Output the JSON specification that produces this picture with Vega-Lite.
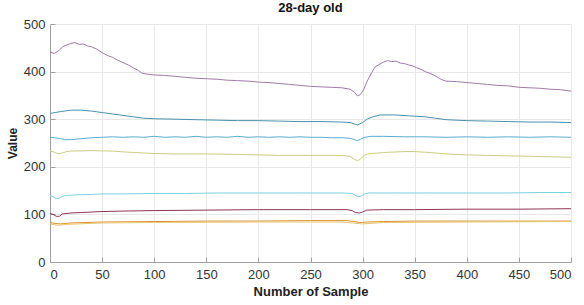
{
  "$schema": "https://vega.github.io/schema/vega-lite/v6.json",
  "width": 521,
  "height": 238,
  "autosize": {"type": "none"},
  "padding": {"left": 50, "top": 24, "right": 13, "bottom": 43},
  "background": "white",
  "title": {"text": "28-day old", "fontSize": 13, "font": "Liberation Sans", "fontWeight": "bold", "color": "#111111", "offset": 3},
  "config": {
    "view": {"stroke": null},
    "axis": {"labelFont": "Liberation Sans", "titleFont": "Liberation Sans", "labelFontSize": 13, "titleFontSize": 13, "labelColor": "#333333", "titleColor": "#222222", "gridColor": "#e8e8e8", "domainColor": "#a0a0a0", "tickColor": "#a0a0a0"}
  },
  "data": {"values": [
    {"s":"A","x":0,"v":441},{"s":"A","x":4,"v":438},{"s":"A","x":8,"v":443},{"s":"A","x":12,"v":452},{"s":"A","x":16,"v":456},{"s":"A","x":20,"v":459},{"s":"A","x":24,"v":461},{"s":"A","x":28,"v":457},{"s":"A","x":32,"v":458},{"s":"A","x":36,"v":454},{"s":"A","x":40,"v":452},{"s":"A","x":45,"v":447},{"s":"A","x":50,"v":440},{"s":"A","x":55,"v":434},{"s":"A","x":60,"v":430},{"s":"A","x":65,"v":424},{"s":"A","x":70,"v":419},{"s":"A","x":75,"v":414},{"s":"A","x":80,"v":408},{"s":"A","x":85,"v":402},{"s":"A","x":88,"v":397},{"s":"A","x":92,"v":395},{"s":"A","x":100,"v":393},{"s":"A","x":110,"v":392},{"s":"A","x":120,"v":390},{"s":"A","x":130,"v":388},{"s":"A","x":140,"v":386},{"s":"A","x":150,"v":385},{"s":"A","x":160,"v":384},{"s":"A","x":170,"v":382},{"s":"A","x":180,"v":381},{"s":"A","x":190,"v":380},{"s":"A","x":200,"v":378},{"s":"A","x":210,"v":377},{"s":"A","x":220,"v":375},{"s":"A","x":230,"v":373},{"s":"A","x":240,"v":371},{"s":"A","x":250,"v":369},{"s":"A","x":260,"v":368},{"s":"A","x":270,"v":367},{"s":"A","x":280,"v":366},{"s":"A","x":288,"v":363},{"s":"A","x":292,"v":357},{"s":"A","x":295,"v":349},{"s":"A","x":298,"v":352},{"s":"A","x":301,"v":362},{"s":"A","x":304,"v":378},{"s":"A","x":308,"v":395},{"s":"A","x":312,"v":410},{"s":"A","x":316,"v":415},{"s":"A","x":320,"v":420},{"s":"A","x":324,"v":423},{"s":"A","x":328,"v":421},{"s":"A","x":332,"v":422},{"s":"A","x":336,"v":418},{"s":"A","x":340,"v":417},{"s":"A","x":344,"v":414},{"s":"A","x":348,"v":412},{"s":"A","x":352,"v":408},{"s":"A","x":356,"v":405},{"s":"A","x":360,"v":400},{"s":"A","x":364,"v":397},{"s":"A","x":368,"v":393},{"s":"A","x":372,"v":388},{"s":"A","x":376,"v":383},{"s":"A","x":380,"v":380},{"s":"A","x":390,"v":379},{"s":"A","x":400,"v":377},{"s":"A","x":410,"v":375},{"s":"A","x":420,"v":373},{"s":"A","x":430,"v":371},{"s":"A","x":440,"v":370},{"s":"A","x":450,"v":367},{"s":"A","x":460,"v":366},{"s":"A","x":470,"v":365},{"s":"A","x":480,"v":363},{"s":"A","x":490,"v":362},{"s":"A","x":500,"v":359},

    {"s":"B","x":0,"v":312},{"s":"B","x":5,"v":314},{"s":"B","x":10,"v":316},{"s":"B","x":20,"v":319},{"s":"B","x":30,"v":319},{"s":"B","x":40,"v":317},{"s":"B","x":50,"v":314},{"s":"B","x":60,"v":311},{"s":"B","x":70,"v":308},{"s":"B","x":80,"v":305},{"s":"B","x":90,"v":302},{"s":"B","x":100,"v":301},{"s":"B","x":120,"v":300},{"s":"B","x":140,"v":299},{"s":"B","x":160,"v":298},{"s":"B","x":180,"v":297},{"s":"B","x":200,"v":297},{"s":"B","x":220,"v":296},{"s":"B","x":240,"v":295},{"s":"B","x":260,"v":295},{"s":"B","x":280,"v":294},{"s":"B","x":288,"v":293},{"s":"B","x":292,"v":290},{"s":"B","x":295,"v":288},{"s":"B","x":300,"v":293},{"s":"B","x":305,"v":301},{"s":"B","x":310,"v":305},{"s":"B","x":317,"v":309},{"s":"B","x":330,"v":309},{"s":"B","x":345,"v":307},{"s":"B","x":360,"v":305},{"s":"B","x":370,"v":302},{"s":"B","x":380,"v":299},{"s":"B","x":400,"v":297},{"s":"B","x":420,"v":296},{"s":"B","x":440,"v":295},{"s":"B","x":460,"v":294},{"s":"B","x":480,"v":294},{"s":"B","x":500,"v":293},

    {"s":"C","x":0,"v":262},{"s":"C","x":5,"v":261},{"s":"C","x":10,"v":259},{"s":"C","x":15,"v":257},{"s":"C","x":20,"v":257},{"s":"C","x":30,"v":259},{"s":"C","x":40,"v":261},{"s":"C","x":50,"v":262},{"s":"C","x":60,"v":263},{"s":"C","x":70,"v":262},{"s":"C","x":80,"v":263},{"s":"C","x":90,"v":262},{"s":"C","x":100,"v":264},{"s":"C","x":110,"v":262},{"s":"C","x":120,"v":263},{"s":"C","x":130,"v":262},{"s":"C","x":140,"v":264},{"s":"C","x":150,"v":262},{"s":"C","x":160,"v":263},{"s":"C","x":170,"v":262},{"s":"C","x":180,"v":264},{"s":"C","x":190,"v":262},{"s":"C","x":200,"v":263},{"s":"C","x":210,"v":262},{"s":"C","x":220,"v":263},{"s":"C","x":230,"v":262},{"s":"C","x":240,"v":263},{"s":"C","x":250,"v":262},{"s":"C","x":260,"v":262},{"s":"C","x":270,"v":261},{"s":"C","x":280,"v":261},{"s":"C","x":288,"v":260},{"s":"C","x":292,"v":257},{"s":"C","x":295,"v":255},{"s":"C","x":298,"v":258},{"s":"C","x":302,"v":262},{"s":"C","x":308,"v":264},{"s":"C","x":320,"v":264},{"s":"C","x":340,"v":263},{"s":"C","x":360,"v":263},{"s":"C","x":380,"v":262},{"s":"C","x":400,"v":263},{"s":"C","x":420,"v":262},{"s":"C","x":440,"v":263},{"s":"C","x":460,"v":262},{"s":"C","x":480,"v":263},{"s":"C","x":500,"v":262},

    {"s":"D","x":0,"v":233},{"s":"D","x":4,"v":231},{"s":"D","x":8,"v":227},{"s":"D","x":12,"v":229},{"s":"D","x":16,"v":232},{"s":"D","x":20,"v":233},{"s":"D","x":40,"v":234},{"s":"D","x":60,"v":233},{"s":"D","x":80,"v":230},{"s":"D","x":100,"v":228},{"s":"D","x":120,"v":227},{"s":"D","x":150,"v":227},{"s":"D","x":180,"v":226},{"s":"D","x":200,"v":225},{"s":"D","x":220,"v":224},{"s":"D","x":240,"v":224},{"s":"D","x":260,"v":224},{"s":"D","x":280,"v":224},{"s":"D","x":288,"v":222},{"s":"D","x":292,"v":216},{"s":"D","x":295,"v":213},{"s":"D","x":298,"v":216},{"s":"D","x":301,"v":224},{"s":"D","x":305,"v":227},{"s":"D","x":320,"v":230},{"s":"D","x":340,"v":232},{"s":"D","x":350,"v":232},{"s":"D","x":365,"v":230},{"s":"D","x":380,"v":227},{"s":"D","x":400,"v":225},{"s":"D","x":420,"v":224},{"s":"D","x":440,"v":223},{"s":"D","x":460,"v":222},{"s":"D","x":480,"v":221},{"s":"D","x":500,"v":220},

    {"s":"E","x":0,"v":140},{"s":"E","x":3,"v":137},{"s":"E","x":6,"v":133},{"s":"E","x":9,"v":134},{"s":"E","x":12,"v":138},{"s":"E","x":16,"v":140},{"s":"E","x":25,"v":141},{"s":"E","x":40,"v":142},{"s":"E","x":50,"v":143},{"s":"E","x":70,"v":143},{"s":"E","x":100,"v":144},{"s":"E","x":130,"v":144},{"s":"E","x":160,"v":145},{"s":"E","x":200,"v":145},{"s":"E","x":240,"v":145},{"s":"E","x":280,"v":145},{"s":"E","x":290,"v":144},{"s":"E","x":293,"v":140},{"s":"E","x":296,"v":137},{"s":"E","x":299,"v":139},{"s":"E","x":302,"v":143},{"s":"E","x":306,"v":145},{"s":"E","x":330,"v":145},{"s":"E","x":360,"v":145},{"s":"E","x":400,"v":145},{"s":"E","x":440,"v":145},{"s":"E","x":470,"v":146},{"s":"E","x":500,"v":146},

    {"s":"F","x":0,"v":102},{"s":"F","x":3,"v":100},{"s":"F","x":6,"v":96},{"s":"F","x":9,"v":96},{"s":"F","x":12,"v":101},{"s":"F","x":20,"v":103},{"s":"F","x":30,"v":104},{"s":"F","x":50,"v":106},{"s":"F","x":70,"v":107},{"s":"F","x":100,"v":108},{"s":"F","x":150,"v":109},{"s":"F","x":200,"v":110},{"s":"F","x":250,"v":110},{"s":"F","x":285,"v":110},{"s":"F","x":290,"v":108},{"s":"F","x":293,"v":104},{"s":"F","x":297,"v":103},{"s":"F","x":300,"v":105},{"s":"F","x":304,"v":109},{"s":"F","x":320,"v":110},{"s":"F","x":350,"v":110},{"s":"F","x":400,"v":111},{"s":"F","x":450,"v":111},{"s":"F","x":500,"v":112},

    {"s":"G","x":0,"v":83},{"s":"G","x":5,"v":81},{"s":"G","x":10,"v":80},{"s":"G","x":20,"v":82},{"s":"G","x":50,"v":84},{"s":"G","x":100,"v":85},{"s":"G","x":150,"v":86},{"s":"G","x":200,"v":86},{"s":"G","x":250,"v":87},{"s":"G","x":285,"v":87},{"s":"G","x":292,"v":85},{"s":"G","x":297,"v":83},{"s":"G","x":305,"v":84},{"s":"G","x":320,"v":85},{"s":"G","x":350,"v":86},{"s":"G","x":400,"v":86},{"s":"G","x":450,"v":86},{"s":"G","x":500,"v":86},

    {"s":"H","x":0,"v":80},{"s":"H","x":8,"v":77},{"s":"H","x":15,"v":79},{"s":"H","x":50,"v":82},{"s":"H","x":100,"v":83},{"s":"H","x":200,"v":84},{"s":"H","x":280,"v":84},{"s":"H","x":290,"v":82},{"s":"H","x":300,"v":80},{"s":"H","x":320,"v":83},{"s":"H","x":400,"v":84},{"s":"H","x":500,"v":85}
  ]},
  "mark": {"type": "line", "strokeWidth": 1, "interpolate": "linear"},
  "encoding": {
    "x": {"field": "x", "type": "quantitative", "scale": {"domain": [0, 500], "nice": false}, "axis": {"values": [0,50,100,150,200,250,300,350,400,450,500], "title": "Number of Sample", "titleFontWeight": "bold", "tickSize": -5, "labelPadding": 11, "titlePadding": 4}},
    "y": {"field": "v", "type": "quantitative", "scale": {"domain": [0, 500], "nice": false}, "axis": {"values": [0,100,200,300,400,500], "title": "Value", "titleFontWeight": "bold", "tickSize": -5, "labelPadding": 10, "titlePadding": 4, "titleFontSize": 12}},
    "color": {"field": "s", "type": "nominal", "legend": null, "scale": {"domain": ["A","B","C","D","E","F","G","H"], "range": ["#a07aa8", "#4a90ab", "#5aaecf", "#cccc84", "#7ad2de", "#913456", "#dc9036", "#e8c66a"]}}
  }
}
